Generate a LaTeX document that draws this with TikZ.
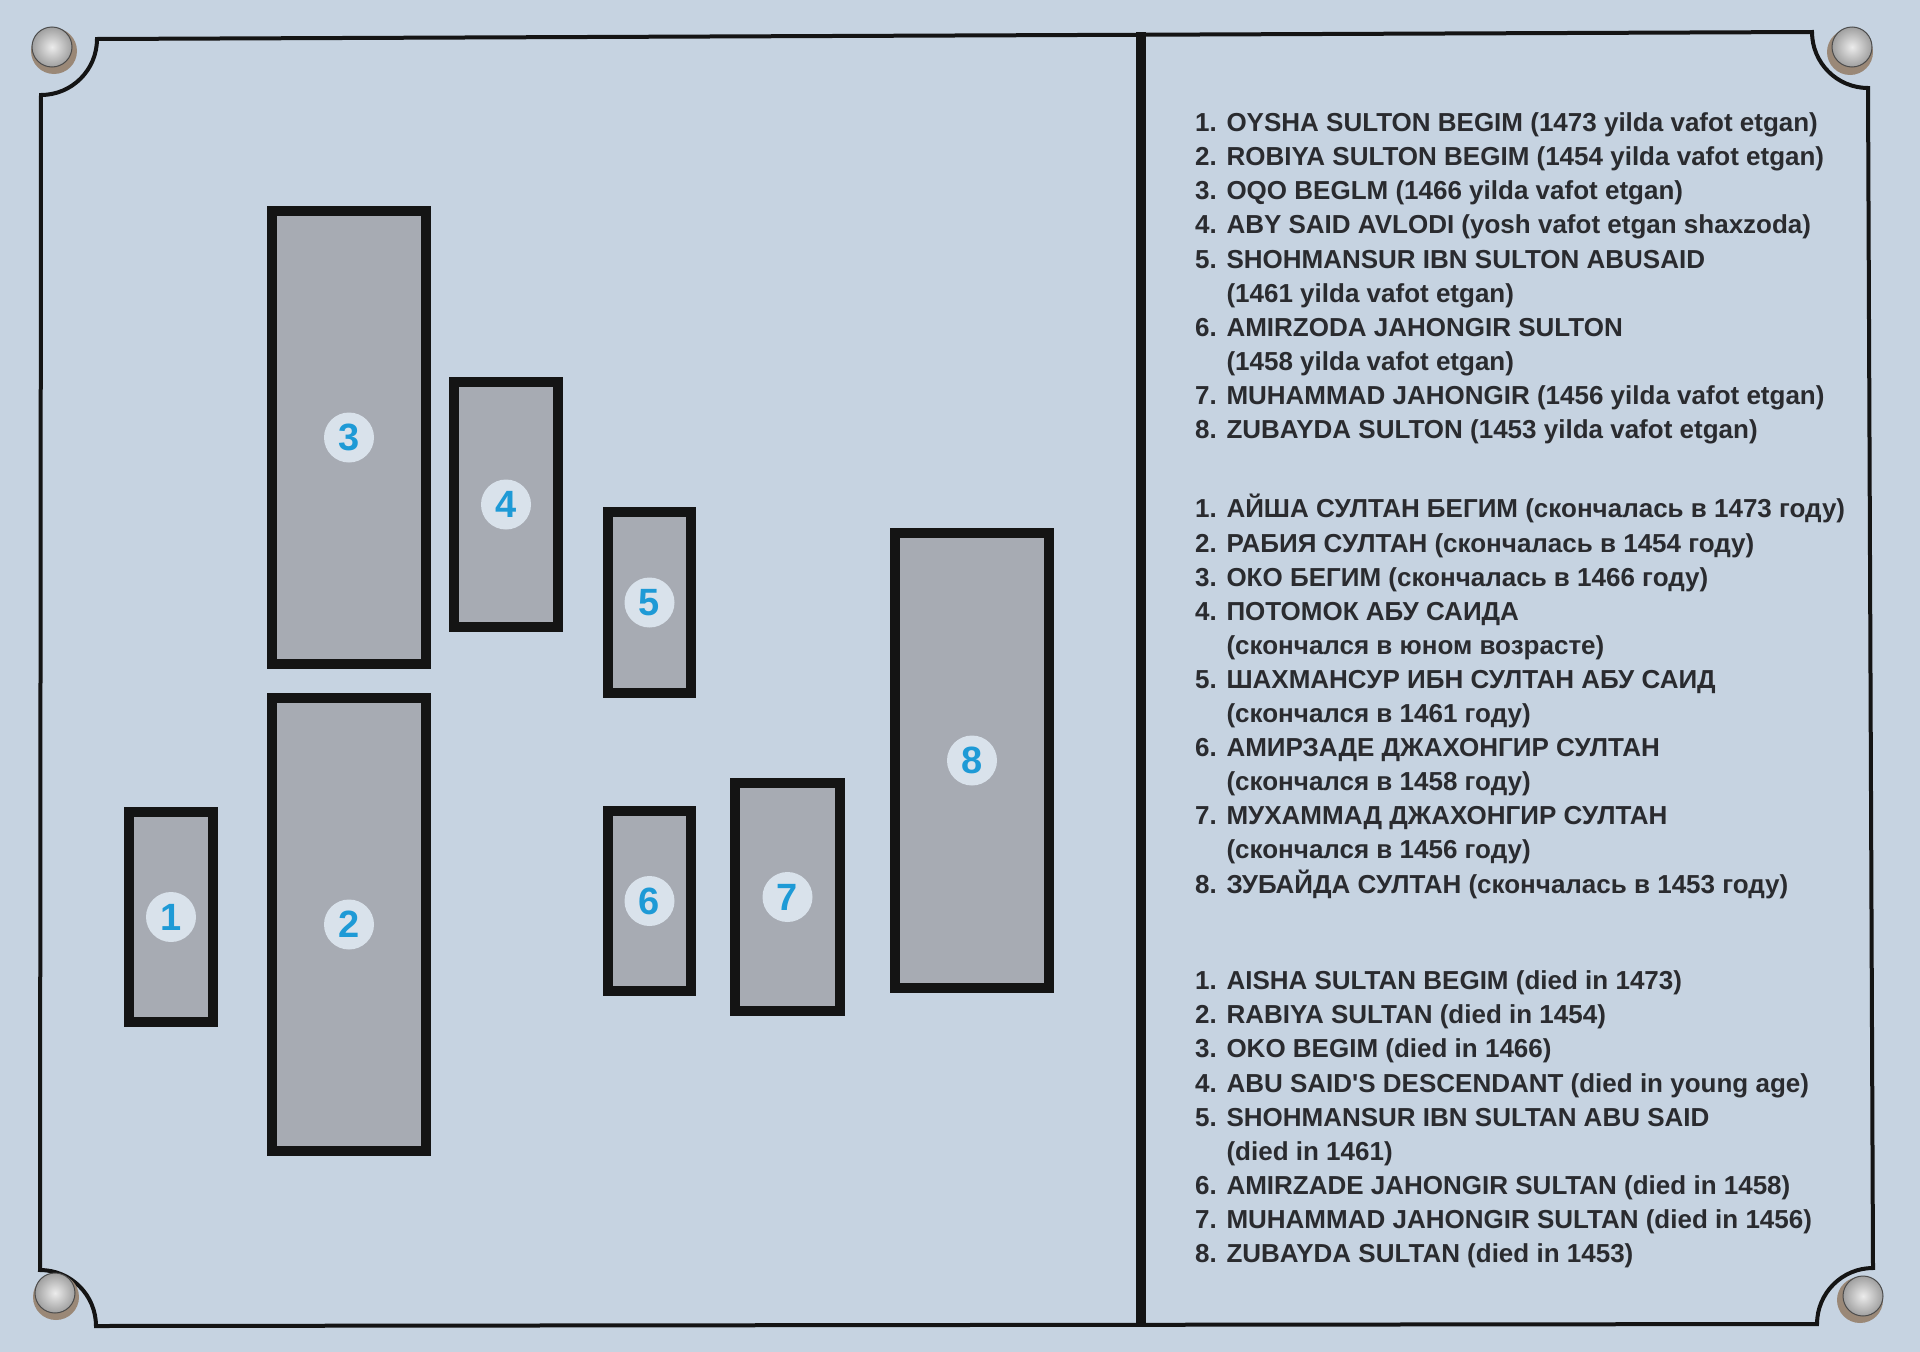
\documentclass[tikz,border=0pt]{standalone}
\usepackage{fontspec}
\setmainfont{Liberation Sans}
\usepackage{tikz}
\usetikzlibrary{positioning,shadings}
\definecolor{plate}{HTML}{C6D3E1}
\definecolor{gravegray}{HTML}{A7ABB3}
\definecolor{discfill}{HTML}{D9E2EB}
\definecolor{numblue}{HTML}{1E9AD6}
\definecolor{inkgray}{HTML}{2A2B2F}
\definecolor{frameblack}{HTML}{141414}
\tikzset{
  grave/.style={draw=frameblack,line width=10pt,fill=gravegray,inner sep=0pt},
  disc/.style={circle,fill=discfill,minimum size=50pt,inner sep=0pt,
    text=numblue,font=\fontsize{38}{40}\selectfont\bfseries},
  legend/.style={anchor=base west,align=left,inner sep=0pt,text=inkgray,
    font=\fontsize{26}{34.1}\selectfont\bfseries},
  frame/.style={draw=frameblack,line width=4pt},
  divider/.style={draw=frameblack,line width=10pt},
  screwrim/.style={circle,minimum size=46pt,inner sep=0pt,fill=black!55!brown!60},
  screwtop/.style={circle,minimum size=40pt,inner sep=0pt,
    inner color=gray!15,outer color=gray!75,draw=gray!60!black,line width=1pt},
}
\newcommand{\ind}{\hphantom{5. }}
\begin{document}
\begin{tikzpicture}[x=1pt,y=-1pt]
% plate
\fill[plate] (0,0) rectangle (1920,1352);
% frame with corner notches
\draw[frame] (97,39) -- (1812,32) arc[start angle=180,end angle=90,radius=56]
  -- (1873,1268) arc[start angle=270,end angle=180,radius=56]
  -- (96,1326) arc[start angle=0,end angle=-90,radius=56]
  -- (41,95) arc[start angle=90,end angle=0,radius=56] -- cycle;
\draw[divider] (1140.5,32) -- (1140.5,1325);
% screws
\node[screwrim] (r1) at (54,51) {};
\node[screwtop] (s1) at (52,47) {};
\node[screwrim] (r2) at (1850,52) {};
\node[screwtop] (s2) at (1852,47) {};
\node[screwrim] (r3) at (56,1297) {};
\node[screwtop] (s3) at (55,1293) {};
\node[screwrim] (r4) at (1860,1300) {};
\node[screwtop] (s4) at (1863,1296) {};
% graves
\node[grave,minimum width=84pt,minimum height=210pt] (g1) at (171,917) {};
\node[grave,minimum width=154pt,minimum height=453pt] (g2) at (349,924.5) {};
\node[grave,minimum width=154pt,minimum height=453pt] (g3) at (349,437.5) {};
\node[grave,minimum width=104pt,minimum height=245pt] (g4) at (506,504.5) {};
\node[grave,minimum width=83pt,minimum height=181pt] (g5) at (649.5,602.5) {};
\node[grave,minimum width=83pt,minimum height=180pt] (g6) at (649.5,901) {};
\node[grave,minimum width=105pt,minimum height=228pt] (g7) at (787.5,897) {};
\node[grave,minimum width=154pt,minimum height=455pt] (g8) at (972,760.5) {};
% numbers
\node[disc] (d1) at (g1) {1};
\node[disc] (d2) at (g2) {2};
\node[disc] (d3) at (g3) {3};
\node[disc] (d4) at (g4) {4};
\node[disc] (d5) at (g5) {5};
\node[disc] (d6) at (g6) {6};
\node[disc] (d7) at (g7) {7};
\node[disc] (d8) at (g8) {8};
% legend, uzbek (anchored on its last line)
\node[legend] (uz) at (1195,438.5) {1. OYSHA SULTON BEGIM (1473 yilda vafot etgan)\\
2. ROBIYA SULTON BEGIM (1454 yilda vafot etgan)\\
3. OQO BEGLM (1466 yilda vafot etgan)\\
4. ABY SAID AVLODI (yosh vafot etgan shaxzoda)\\
5. SHOHMANSUR IBN SULTON ABUSAID\\
\ind(1461 yilda vafot etgan)\\
6. AMIRZODA JAHONGIR SULTON\\
\ind(1458 yilda vafot etgan)\\
7. MUHAMMAD JAHONGIR (1456 yilda vafot etgan)\\
8. ZUBAYDA SULTON (1453 yilda vafot etgan)};
% legend, russian
\node[legend] (ru) at (1195,893) {1. АЙША СУЛТАН БЕГИМ (скончалась в 1473 году)\\
2. РАБИЯ СУЛТАН (скончалась в 1454 году)\\
3. ОКО БЕГИМ (скончалась в 1466 году)\\
4. ПОТОМОК АБУ САИДА\\
\ind(скончался в юном возрасте)\\
5. ШАХМАНСУР ИБН СУЛТАН АБУ САИД\\
\ind(скончался в 1461 году)\\
6. АМИРЗАДЕ ДЖАХОНГИР СУЛТАН\\
\ind(скончался в 1458 году)\\
7. МУХАММАД ДЖАХОНГИР СУЛТАН\\
\ind(скончался в 1456 году)\\
8. ЗУБАЙДА СУЛТАН (скончалась в 1453 году)};
% legend, english
\node[legend] (en) at (1195,1262.5) {1. AISHA SULTAN BEGIM (died in 1473)\\
2. RABIYA SULTAN (died in 1454)\\
3. OKO BEGIM (died in 1466)\\
4. ABU SAID\textquotesingle S DESCENDANT (died in young age)\\
5. SHOHMANSUR IBN SULTAN ABU SAID\\
\ind(died in 1461)\\
6. AMIRZADE JAHONGIR SULTAN (died in 1458)\\
7. MUHAMMAD JAHONGIR SULTAN (died in 1456)\\
8. ZUBAYDA SULTAN (died in 1453)};
\end{tikzpicture}
\end{document}
